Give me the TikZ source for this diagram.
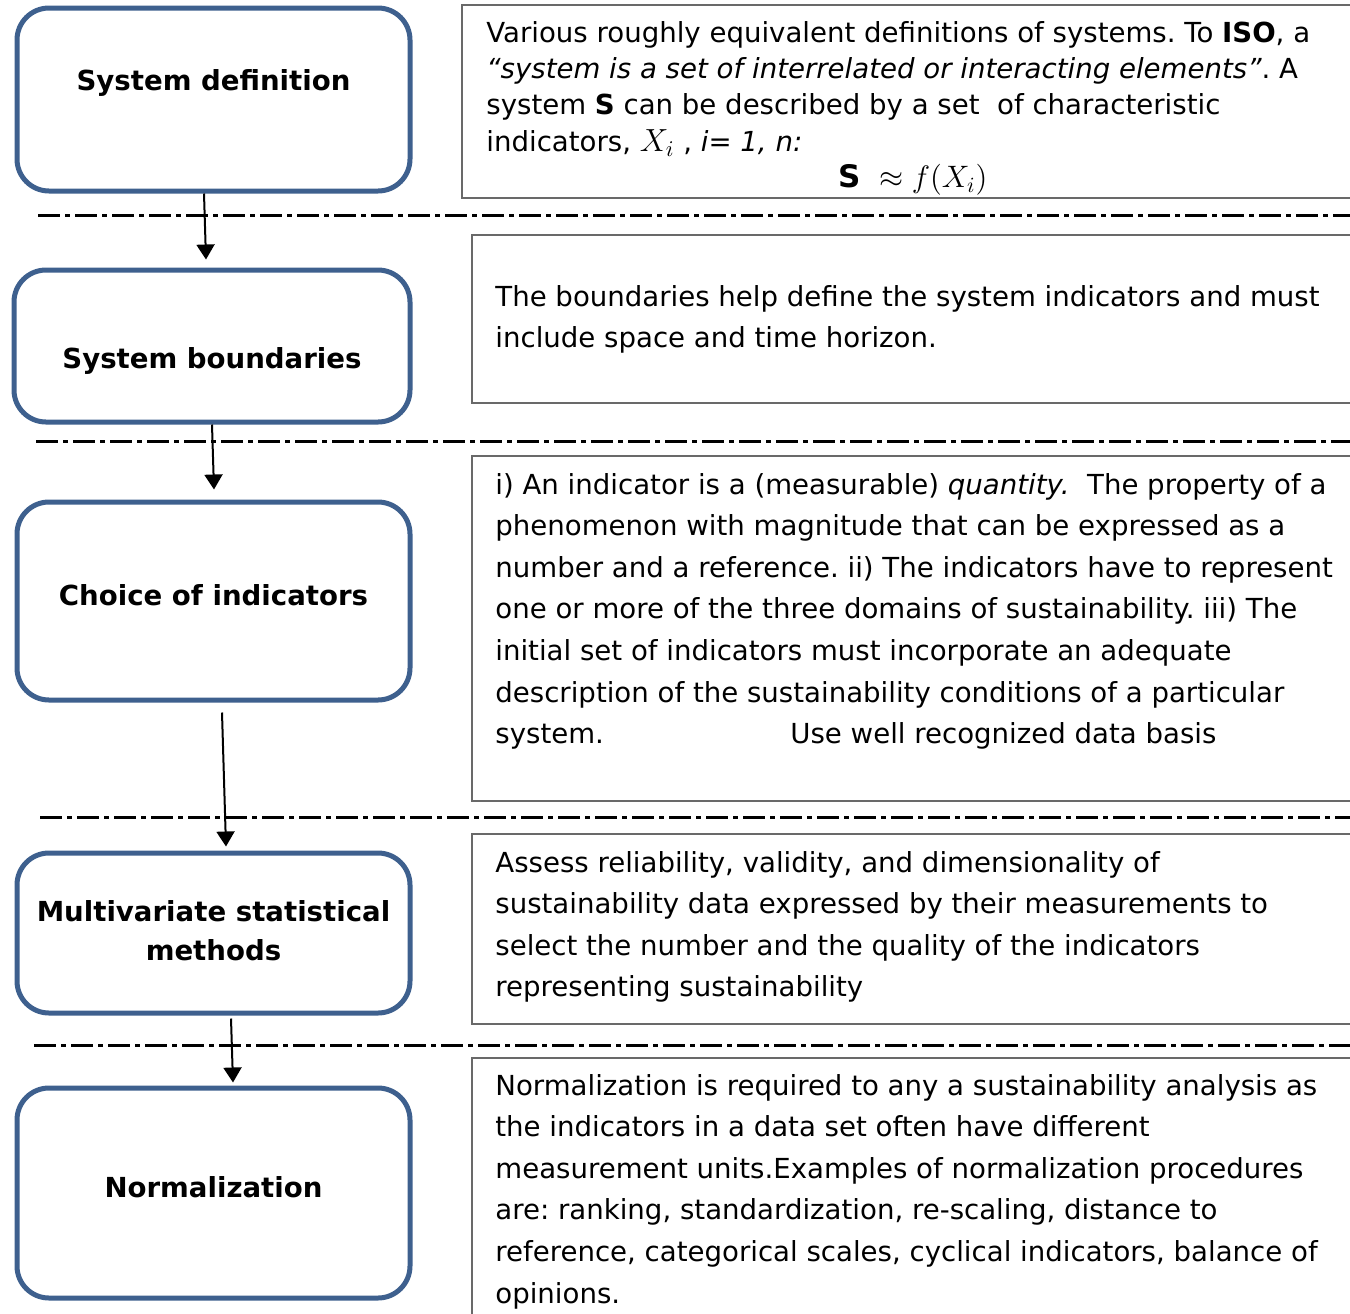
\RequirePackage{fix-cm}
\documentclass[tikz,border=0pt]{standalone}
\usepackage{fontspec}
\setmainfont{DejaVu Sans}
\usetikzlibrary{arrows.meta}

\definecolor{boxblue}{RGB}{62,96,142}
\definecolor{framegray}{RGB}{105,105,105}
\frenchspacing

\begin{document}
\begin{tikzpicture}[x=0.5pt,y=-0.5pt,
   stepbox/.style={draw=boxblue,line width=2.5pt,rounded corners=16pt,minimum width=196.5pt,inner sep=0pt},
   boxtext/.style={font=\fontsize{13.8pt}{19.5pt}\selectfont\bfseries,align=center,inner sep=0pt},
   descframe/.style={draw=framegray,line width=0.8pt,anchor=north west,minimum width=449.5pt,inner sep=0pt},
   desctext/.style={font=\fontsize{13.8pt}{20.8pt}\selectfont,align=left,anchor=base west,inner sep=0pt},
   sep/.style={line width=1.5pt,dash pattern=on 11pt off 2.5pt on 2.5pt off 2.5pt},
   flow/.style={line width=1pt,-{Triangle[width=9pt,length=7.5pt]}}]

\useasboundingbox (0,0) rectangle (1350,1313);

%% cadres de droite
   \node[descframe,minimum height=96.5pt] (defFrame) at (461,4) {};
   \node[descframe,minimum height=84pt] (boundFrame) at (471,234) {};
   \node[descframe,minimum height=172.5pt] (choiceFrame) at (471,455) {};
   \node[descframe,minimum height=95pt] (multiFrame) at (471,833) {};
   \node[descframe,minimum height=150pt] (normFrame) at (471,1057) {};

%% textes (base = derniere ligne)
   \node[desctext,font=\fontsize{13.8pt}{18.2pt}\selectfont] (defText) at ([xshift=12.5pt,yshift=-91.8pt]defFrame.north west)
      {Various roughly equivalent definitions of systems. To \textbf{ISO}, a\\
       \textit{“system is a set of interrelated or interacting elements”}. A\\
       system \textbf{S} can be described by a set\ \ of characteristic\\
       indicators, {\fontsize{16pt}{18.2pt}\selectfont$X_{i}$} , \textit{i= 1, n:}\\
       \hspace*{176pt}{\fontsize{15.5pt}{18.2pt}\selectfont$\mathbf{S}\ \approx f(X_i)$}};
   \node[desctext] (boundText) at ([xshift=12pt,yshift=-56.8pt]boundFrame.north west)
      {The boundaries help define the system indicators and must\\
       include space and time horizon.};
   \node[desctext] (choiceText) at ([xshift=12pt,yshift=-144.3pt]choiceFrame.north west)
      {i) An indicator is a (measurable) \textit{quantity.}\ \ The property of a\\
       phenomenon with magnitude that can be expressed as a\\
       number and a reference. ii) The indicators have to represent\\
       one or more of the three domains of sustainability. iii) The\\
       initial set of indicators must incorporate an adequate\\
       description of the sustainability conditions of a particular\\
       \makebox[147.5pt][l]{system.}Use well recognized data basis};
   \node[desctext] (multiText) at ([xshift=12pt,yshift=-81.9pt]multiFrame.north west)
      {Assess reliability, validity, and dimensionality of\\
       sustainability data expressed by their measurements to\\
       select the number and the quality of the indicators\\
       representing sustainability};
   \node[desctext] (normText) at ([xshift=12pt,yshift=-123pt]normFrame.north west)
      {Normalization is required to any a sustainability analysis as\\
       the indicators in a data set often have different\\
       measurement units.Examples of normalization procedures\\
       are: ranking, standardization, re-scaling, distance to\\
       reference, categorical scales, cyclical indicators, balance of\\
       opinions.};

%% separations
   \draw[sep] (38,215) -- (1350,215);
   \draw[sep] (36,441) -- (1350,441);
   \draw[sep] (40,817) -- (1350,817);
   \draw[sep] (34,1045) -- (1350,1045);

%% etapes
   \node[stepbox,minimum height=91.5pt,label={[boxtext,yshift=8.35pt]center:System definition}] (sysdef) at (213.5,99.5) {};
   \node[stepbox,minimum width=198pt,minimum height=76pt,label={[boxtext,yshift=-7.4pt]center:System boundaries}] (sysbound) at (212,346) {};
   \node[stepbox,minimum height=99pt,label={[boxtext,yshift=2.75pt]center:Choice of indicators}] (choice) at (213.5,601) {};
   \node[stepbox,minimum height=80pt,label={[boxtext,yshift=1pt]center:{Multivariate statistical\\methods}}] (multi) at (213.5,933) {};
   \node[stepbox,minimum height=105pt,label={[boxtext,yshift=2.75pt]center:Normalization}] (norm) at (213.5,1193) {};

%% fleches
   \draw[flow] ([xshift=-4.75pt]sysdef.south) -- ([xshift=-3pt,yshift=4pt]sysbound.north);
   \draw[flow] (sysbound.south) -- ([xshift=0.25pt,yshift=5pt]choice.north);
   \draw[flow] ([xshift=4.25pt,yshift=-5pt]choice.south) -- ([xshift=6.25pt,yshift=2pt]multi.north);
   \draw[flow] ([xshift=8.75pt,yshift=-1.5pt]multi.south) -- ([xshift=9.75pt,yshift=1.5pt]norm.north);

\end{tikzpicture}
\end{document}
